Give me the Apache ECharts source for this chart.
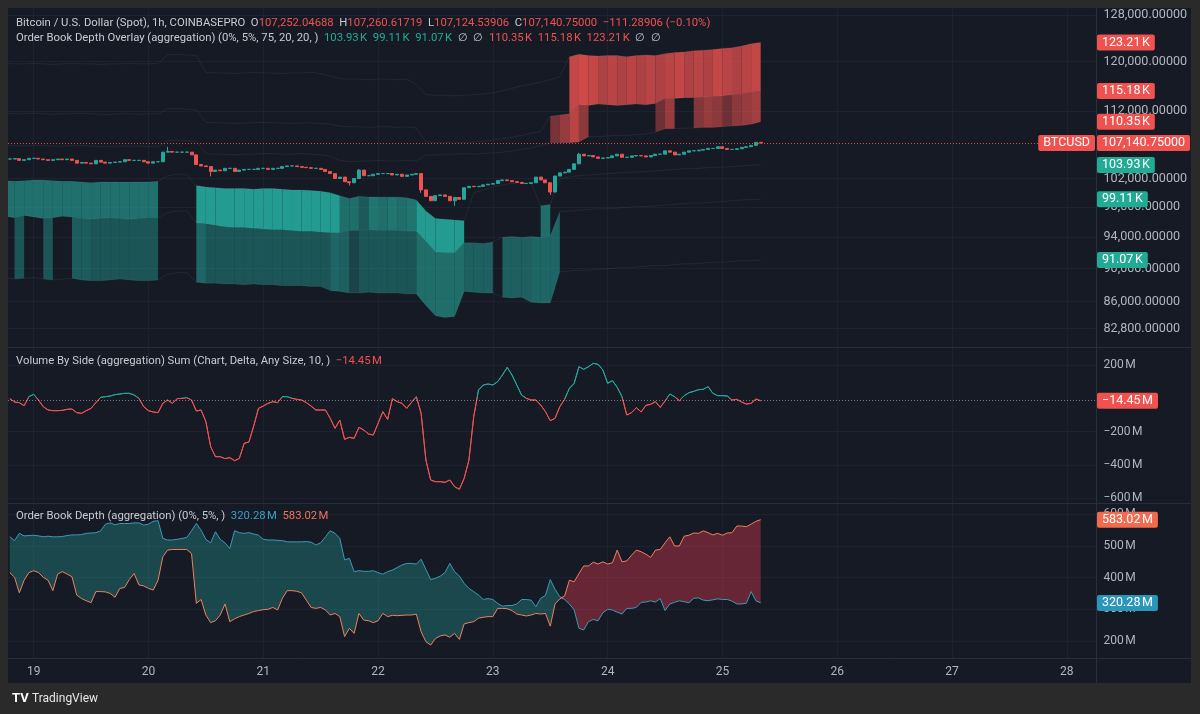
<!DOCTYPE html>
<html>
<head>
<meta charset="utf-8">
<style>
html, body { margin: 0; padding: 0; background: #2a2a2a; }
#chart { width: 1200px; height: 714px; }
</style>
<script src="https://cdn.jsdelivr.net/npm/echarts@6/dist/echarts.min.js"></script>
</head>
<body>
<div id="chart"></div>
<script>
// x axis: one category per hour, hour 0 = 19th 00:00
const firstCat = -6, lastCat = 222;
const dayLabels = ['19', '20', '21', '22', '23', '24', '25', '26', '27', '28'];

// hourly closes (K USD) from hour -5 to hour 152
const closes = [
  104.8, 104.85, 104.6, 104.7, 104.9, 104.9, 104.8, 104.7, 104.6, 104.7, 104.8, 104.7, 104.8, 104.6, 104.2, 104.3, 104.2, 104.1,
  104.6, 104.35, 104.2, 104.3, 104.35, 104.4, 104.7, 104.6, 104.6, 104.6, 104.4, 104.2, 104.4, 104.4,
  105.8, 105.9, 105.8, 105.8, 105.8, 105.8, 105.4, 104.0, 103.8, 103.7, 103.0, 103.2, 103.1, 103.45,
  103.45, 103.0, 103.2, 103.3, 103.3, 103.3, 103.45, 103.45, 103.3, 103.45, 103.45, 103.7, 103.8, 103.8,
  103.7, 103.6, 103.55, 103.45, 103.45, 103.3, 103.0, 102.7, 102.0, 102.2, 101.55, 101.4, 102.0, 103.2,
  102.4, 102.4, 102.6, 102.7, 102.7, 102.7, 102.5, 102.6, 102.3, 102.5, 102.6, 102.7, 100.4, 99.5,
  98.9, 99.6, 99.7, 99.5, 98.9, 99.35, 99.1, 100.7, 100.9, 100.85, 100.9, 101.1, 101.2, 101.3,
  101.7, 101.8, 101.7, 101.55, 101.45, 101.3, 101.3, 101.4, 102.2, 101.8, 101.4, 100.1, 102.35, 102.8,
  102.9, 103.3, 104.1, 105.5, 105.25, 105.3, 105.1, 104.9, 104.95, 105.0, 105.25, 105.5, 105.05, 105.05,
  105.25, 105.3, 105.25, 105.1, 105.3, 105.5, 105.5, 106.0, 105.8, 105.4, 105.5, 105.8, 106.0, 106.0,
  106.1, 106.2, 106.35, 106.35, 106.6, 106.35, 106.2, 106.2, 106.3, 106.5, 106.6, 106.8, 107.25, 107.14075
];
const wickHigh = { 28: 106.6, 68: 103.35, 114: 105.7, 152: 107.26062 };
const wickLow = { 37: 102.3, 66: 101.0, 81: 100.0, 88: 98.2, 108: 99.7, 152: 107.12454 };

// volume delta (M) hour -5..152
const volDelta = [
  -2, -22, -26, -44, 10, 24, -10, -50, -70, -74, -74, -72, -66, -64, -86, -90, -74, -60,
  -26, 6, 10, 14, 22, 26, 30, 30, 20, 0, -50, -74, -82, -86,
  -30, -10, -30, -2, 0, 4, -10, -76, -70, -140, -290, -350, -350, -362,
  -356, -374, -360, -270, -262, -166, -60, -46, -30, -20, -26, 10, 10, 0,
  -6, -10, -26, -46, -70, -70, -70, -120, -180, -130, -246, -234, -240, -174,
  -190, -214, -220, -150, -80, -126, -2, -20, -30, -60, -24, 10, -90, -370,
  -490, -500, -500, -504, -490, -530, -546, -480, -370, -110, 50, 80, 86, 80,
  100, 140, 186, 140, 80, 20, 0, -10, -10, -40, -80, -134, -120, -50,
  -6, 60, 90, 190, 174, 190, 210, 204, 170, 90, 106, 66, 10, -100,
  -86, -56, -82, -42, -36, -20, -54, -16, 26, 10, -14, 16, 34, 42,
  52, 54, 70, 30, 16, 16, 14, -10, -6, -22, -34, -30, -4, -14.45
];

// order book depth (M) hour -5..152
const bidDepth = [
  529, 517, 540, 532, 533, 534, 532, 529, 531, 529, 529, 530, 533, 535, 535, 536, 540, 541,
  542, 548, 569, 573, 567, 571, 571, 571, 573, 573, 566, 569, 578, 580,
  524, 519, 519, 521, 524, 527, 548, 571, 550, 521, 510, 545, 521, 510,
  492, 548, 542, 540, 542, 538, 534, 521, 519, 519, 518, 517, 513, 513,
  513, 513, 514, 512, 503, 510, 529, 548, 540, 524, 456, 461, 419, 422,
  420, 420, 422, 416, 411, 419, 424, 432, 440, 445, 445, 443, 458, 426,
  394, 398, 405, 416, 445, 419, 405, 382, 366, 356, 345, 331, 334, 331,
  319, 310, 312, 312, 317, 331, 331, 329, 308, 335, 344, 394, 363, 340,
  331, 317, 298, 240, 235, 261, 268, 264, 289, 300, 298, 291, 285, 303,
  303, 306, 322, 323, 327, 323, 334, 296, 317, 322, 327, 324, 321, 335,
  336, 329, 327, 330, 333, 331, 331, 326, 317, 317, 319, 356, 327, 320.28
];
const askDepth = [
  416, 401, 352, 392, 416, 422, 416, 401, 392, 359, 411, 419, 411, 403, 345, 334, 327, 321,
  356, 356, 355, 350, 338, 366, 369, 394, 413, 377, 374, 366, 361, 392,
  466, 487, 489, 489, 489, 489, 476, 319, 331, 282, 258, 264, 282, 317,
  261, 270, 277, 282, 287, 293, 296, 299, 300, 306, 298, 335, 359, 359,
  357, 352, 329, 306, 303, 306, 298, 282, 287, 277, 214, 240, 224, 287,
  266, 264, 258, 264, 287, 277, 281, 280, 281, 282, 282, 285, 229, 198,
  187, 208, 216, 219, 212, 224, 205, 254, 258, 261, 272, 275, 277, 277,
  303, 303, 302, 296, 285, 282, 279, 282, 287, 285, 287, 247, 317, 333,
  342, 392, 387, 413, 437, 437, 449, 443, 450, 443, 447, 487, 450, 453,
  471, 487, 482, 474, 464, 487, 489, 510, 529, 500, 500, 531, 534, 541,
  540, 548, 542, 535, 540, 534, 541, 542, 563, 563, 561, 569, 578, 583.02
];

// order book overlay levels (K USD), sampled every 2 hours from hour -6 to 152
const bidL1 = [
  101.7, 101.6, 101.7, 101.8, 101.8, 101.7, 101.6, 101.6, 101.5, 101.4, 101.5, 101.5, 101.5, 101.5, 101.5, 101.5, 101.6,
  102.4, 102.6, 102.6,
  101.0, 100.8, 100.7, 100.6, 100.6, 100.6, 100.5, 100.6, 100.6, 100.5, 100.4, 100.4, 100.3, 100.2, 100.0, 99.6, 99.2, 99.5, 99.4, 99.4, 99.4, 99.4, 99.3,
  99.0, 97.5, 96.5, 96.4, 96.3, 96.2,
  100.0, 100.4, 100.8, 101.1, 101.3, 101.4, 101.4, 98.2, 98.4,
  102.0, 102.2, 102.4, 102.5, 102.6, 102.7, 102.8, 102.9, 102.9, 103.0, 103.1, 103.2, 103.3, 103.4, 103.4, 103.5, 103.6, 103.6, 103.7, 103.8, 103.9, 103.93
];
const bidL2 = [
  96.8, 96.6, 96.9, 96.7, 96.5, 96.6, 96.8, 96.7, 96.5, 96.4, 96.5, 96.6, 96.5, 96.4, 96.5, 96.6, 96.6,
  97.3, 97.5, 97.5,
  95.9, 95.8, 95.6, 95.4, 95.3, 95.3, 95.2, 95.1, 95.0, 95.0, 94.9, 94.8, 94.8, 94.7, 94.6, 94.6,
  94.9, 94.9, 95.0, 94.9, 94.9, 94.9, 94.8,
  94.8, 93.5, 92.1, 92.0, 92.0, 93.3,
  93.3, 93.2, 93.4, 94.0, 94.1, 94.0, 94.1, 94.0, 94.2,
  97.4, 97.5, 97.6, 97.7, 97.8, 97.8, 97.9, 98.0, 98.1, 98.1, 98.2, 98.3, 98.4, 98.5, 98.6, 98.6, 98.7, 98.8, 98.9, 99.0, 99.05, 99.11
];
const bidL3 = [
  88.9, 88.7, 88.8, 88.9, 88.7, 88.6, 88.7, 88.8, 88.6, 88.5, 88.5, 88.6, 88.7, 88.6, 88.5, 88.5, 88.6,
  89.3, 89.5, 89.5,
  88.3, 88.2, 88.2, 88.1, 88.1, 88.0, 88.1, 88.0, 88.0, 87.9, 87.9, 87.9, 87.8, 87.8, 87.3, 87.2,
  87.0, 87.0, 87.1, 87.0, 87.0, 87.0, 86.9,
  86.9, 85.5, 84.3, 84.1, 84.2, 87.2,
  87.1, 87.0, 87.0, 86.5, 86.4, 86.5, 85.9, 85.8, 85.8,
  89.6, 89.7, 89.8, 89.8, 89.9, 90.0, 90.1, 90.1, 90.2, 90.3, 90.4, 90.4, 90.5, 90.6, 90.6, 90.7, 90.8, 90.8, 90.9, 91.0, 91.0, 91.07
];
const askL1 = [
  106.8, 106.8, 106.7, 106.8, 106.8, 106.7, 106.7, 106.8, 106.8, 106.7, 106.6, 106.6, 106.7, 106.7, 106.7, 106.6, 106.6,
  107.5, 107.6, 107.5, 107.4,
  105.6, 105.5, 105.5, 105.4, 105.5, 105.5, 105.6, 105.6, 105.5, 105.5, 105.6, 105.5, 105.4, 105.2,
  104.6, 104.4, 104.5, 104.5, 104.6, 104.5, 104.5, 104.6, 104.5,
  105.4, 105.4, 105.5, 105.5, 105.6, 105.5, 105.6, 105.7, 105.8, 106.0, 106.2, 106.4, 106.8,
  107.2, 107.2, 107.2,
  107.3, 108.1, 108.1, 108.2, 108.3, 108.3, 108.4, 108.5, 108.8,
  109.3, 109.3, 109.4, 109.4, 109.5, 109.5, 109.6, 109.7, 109.8, 110.0, 110.35
];
const askL2 = [
  111.7, 111.6, 111.6, 111.7, 111.6, 111.5, 111.6, 111.6, 111.7, 111.6, 111.5, 111.5, 111.6, 111.6, 111.5, 111.6, 111.6,
  112.4, 112.4, 112.3, 112.2,
  110.3, 110.2, 110.2, 110.1, 110.2, 110.2, 110.3, 110.2, 110.2, 110.1, 110.2, 110.2, 110.1, 110.0,
  109.7, 109.6, 109.6, 109.5, 109.6, 109.6, 109.5, 109.6, 109.4,
  107.3, 107.2, 107.2, 107.3, 107.2, 107.3, 107.4, 107.6, 107.8, 108.0, 108.3, 108.6, 108.9,
  111.2, 111.4, 111.6,
  113.0, 112.9, 113.1, 113.0, 112.9, 113.0, 113.1, 113.0, 113.2,
  114.0, 114.0, 114.1, 114.1, 114.2, 114.3, 114.4, 114.6, 114.7, 115.0, 115.18
];
const askL3 = [
  119.7, 119.6, 119.6, 119.7, 119.6, 119.5, 119.6, 119.7, 119.6, 119.6, 119.5, 119.6, 119.6, 119.7, 119.6, 119.6, 119.7,
  121.1, 121.2, 121.1, 121.0,
  118.2, 118.1, 118.1, 118.0, 118.1, 118.2, 118.1, 118.1, 118.0, 118.1, 118.1, 118.2, 118.0, 117.6,
  117.2, 117.1, 117.1, 117.0, 117.1, 117.1, 117.0, 117.1, 116.2,
  114.6, 114.5, 114.5, 114.4, 114.5, 114.6, 114.7, 114.9, 115.2, 115.6, 116.0, 116.3, 116.6,
  117.0, 117.5, 120.8,
  121.2, 121.0, 120.9, 121.0, 121.0, 120.8, 121.0, 121.1, 121.0,
  121.3, 121.5, 121.6, 121.8, 121.9, 122.0, 122.2, 122.3, 122.6, 123.0, 123.21
];

// which 2h segments of each band are filled: [fromSeg, toSeg, opacity]
const bidUpperRuns = [[0, 15, 0.62], [20, 34, 0.92], [35, 36, 0.6], [37, 37, 0.45], [38, 38, 0.65], [39, 39, 0.6], [40, 40, 0.65], [41, 41, 0.6], [42, 42, 0.65], [43, 47, 0.92], [56, 56, 0.6]];
const bidLowerRuns = [[1, 1, 0.42], [4, 4, 0.42], [7, 8, 0.48], [9, 15, 0.42], [20, 20, 0.55], [21, 33, 0.42], [34, 34, 0.55], [35, 35, 0.5], [36, 36, 0.3], [37, 42, 0.42], [43, 47, 0.6], [48, 50, 0.5], [52, 54, 0.5], [55, 57, 0.55]];
const askLowerRuns = [[57, 57, 0.45], [58, 58, 0.6], [59, 59, 0.75], [60, 60, 0.55], [68, 68, 0.4], [69, 69, 0.6], [72, 72, 0.5], [73, 73, 0.6], [74, 74, 0.55], [75, 75, 0.4], [76, 76, 0.55], [77, 77, 0.6], [78, 78, 0.65]];
const askUpperRuns = [[59, 59, 0.8], [60, 60, 0.85], [61, 61, 0.8], [62, 62, 0.7], [63, 63, 0.75], [64, 64, 0.7], [65, 65, 0.75], [66, 66, 0.7], [67, 67, 0.75], [68, 68, 0.7], [69, 69, 0.75], [70, 70, 0.8], [71, 71, 0.7], [72, 72, 0.75], [73, 73, 0.7], [74, 74, 0.8], [75, 75, 0.75], [76, 76, 0.7], [77, 77, 0.75], [78, 78, 0.8]];

// axis tick values
const priceTicks = [128000, 120000, 112000, 102000, 98000, 94000, 90000, 86000, 82800];
const volTicks = [200, -200, -400, -600];
const depthTicks = [600, 500, 400, 300, 200];

const FONT = 'Roboto, "Noto Sans", sans-serif';
const PANEL = '#161a25', FRAME = '#2a2a2a', GRID_CLR = '#1e2230', SEP = '#2a2e39';
const AXIS_TXT = '#b2b5be', TXT = '#c9cbd1';
const UP = '#26a69a', DOWN = '#ef5350';
const BID_CLR = '#3a9bb8', ASK_CLR = '#f0805f';
const LEGEND_SIZE = 11.3;

const cats = [];
for (let h = firstCat; h <= lastCat; h++) cats.push(String(h));
const ci = h => h - firstCat;
const isDay = (i, v) => +v >= 0 && +v % 24 === 0;
const NS = '\u202f';

// candles
const candleData = closes.map((c, i) => {
  const h = i - 5;
  const o = i === 0 ? c : closes[i - 1];
  const hi = wickHigh[h] != null ? wickHigh[h] : Math.max(o, c);
  const lo = wickLow[h] != null ? wickLow[h] : Math.min(o, c);
  return [ci(h), o * 1000, c * 1000, lo * 1000, hi * 1000];
});
candleData[candleData.length - 1][1] = 107252.04688;

// overlay bands
const bandData = [];
function addBand(lo, hi, runs, color) {
  runs.forEach(([a, b, op]) => {
    for (let s = a; s <= b; s++) {
      bandData.push([2 * s, lo[s] * 1000, hi[s] * 1000, 2 * s + 2, lo[s + 1] * 1000, hi[s + 1] * 1000, op, color]);
    }
  });
}
addBand(bidL2, bidL1, bidUpperRuns, 0);
addBand(bidL3, bidL2, bidLowerRuns, 1);
addBand(askL1, askL2, askLowerRuns, 2);
addBand(askL2, askL3, askUpperRuns, 3);
const bandColors = [UP, UP, DOWN, DOWN];

const levelSeries = [bidL1, bidL2, bidL3, askL1, askL2, askL3].map(arr => ({
  type: 'line', xAxisIndex: 0, yAxisIndex: 0, symbol: 'none', z: 1,
  lineStyle: { color: 'rgba(255,255,255,0.06)', width: 1 },
  data: arr.map((v, k) => [2 * k, v * 1000])
}));

const volData = volDelta.map((v, i) => [ci(i - 5), v]);
const baseData = bidDepth.map((b, i) => [ci(i - 5), Math.min(b, askDepth[i])]);
const bidOver = bidDepth.map((b, i) => [ci(i - 5), Math.max(b - askDepth[i], 0)]);
const askOver = bidDepth.map((b, i) => [ci(i - 5), Math.max(askDepth[i] - b, 0)]);

const priceFmt = v => v.toLocaleString('en-US', { minimumFractionDigits: 5, maximumFractionDigits: 5 });
const mFmt = v => (v < 0 ? '\u2212' : '') + Math.abs(v) + NS + 'M';

const chart = echarts.init(document.getElementById('chart'));

const xAxes = [0, 1, 2].map(i => ({
  type: 'category', gridIndex: i, data: cats, boundaryGap: false,
  axisLine: { show: false }, axisTick: { show: false },
  axisLabel: { show: i === 2, interval: isDay, formatter: v => dayLabels[+v / 24], color: AXIS_TXT, fontSize: 12, fontFamily: FONT, margin: 8 },
  splitLine: { show: true, interval: isDay, lineStyle: { color: GRID_CLR, width: 1 } }
}));

function yAxis(grid, extra, ticks, fmt, size) {
  return Object.assign({
    gridIndex: grid, position: 'right', scale: true,
    axisLine: { show: false },
    axisTick: { show: false, customValues: ticks },
    axisLabel: { customValues: ticks, formatter: fmt, color: AXIS_TXT, fontSize: size, fontFamily: FONT, margin: 8 },
    splitLine: { show: true, lineStyle: { color: GRID_CLR, width: 1 } }
  }, extra);
}

const option = {
  backgroundColor: PANEL,
  animation: false,
  grid: [
    { left: 5, right: 104.5, top: 8, height: 339 },
    { left: 5, right: 104.5, top: 348, height: 155 },
    { left: 5, right: 104.5, top: 504, height: 154 }
  ],
  xAxis: xAxes,
  yAxis: [
    yAxis(0, { type: 'log', logBase: 10, min: 80720, max: 129250 }, priceTicks, priceFmt, 12.6),
    yAxis(1, { type: 'value', min: -628, max: 302 }, volTicks, mFmt, 12),
    yAxis(2, { type: 'value', min: 146.3, max: 632.6 }, depthTicks, mFmt, 12)
  ],
  visualMap: [{
    show: false, type: 'piecewise', seriesIndex: 8, dimension: 1,
    pieces: [{ gt: 0, lte: 1000, color: UP }, { gt: -1000, lte: 0, color: DOWN }],
    outOfRange: { color: DOWN }
  }],
  series: [
    {
      type: 'custom', xAxisIndex: 0, yAxisIndex: 0, z: 1,
      encode: { x: [0, 3], y: [1, 2, 4, 5] },
      renderItem: (params, api) => {
        const a = api.coord([api.value(0), api.value(1)]);
        const b = api.coord([api.value(0), api.value(2)]);
        const c = api.coord([api.value(3), api.value(5)]);
        const d = api.coord([api.value(3), api.value(4)]);
        return {
          type: 'polygon', shape: { points: [a, b, c, d] },
          style: { fill: bandColors[api.value(7)], opacity: api.value(6) }
        };
      },
      data: bandData
    },
    ...levelSeries,
    {
      type: 'candlestick', xAxisIndex: 0, yAxisIndex: 0, z: 3, barWidth: 3.5,
      encode: { x: 0, y: [1, 2, 3, 4] },
      itemStyle: { color: UP, color0: DOWN, borderColor: UP, borderColor0: DOWN, borderWidth: 1 },
      data: candleData,
      markLine: {
        silent: true, symbol: 'none', label: { show: false },
        lineStyle: { color: DOWN, type: [1, 2], width: 1, opacity: 0.9 },
        data: [{ yAxis: 107140.75 }]
      }
    },
    {
      type: 'line', xAxisIndex: 1, yAxisIndex: 1, symbol: 'none', z: 3,
      lineStyle: { width: 1 },
      data: volData,
      markLine: {
        silent: true, symbol: 'none', label: { show: false },
        lineStyle: { color: 'rgba(200,203,210,0.55)', type: [1, 2], width: 1 },
        data: [{ yAxis: -14.45 }]
      }
    },
    {
      type: 'line', xAxisIndex: 2, yAxisIndex: 2, stack: 'depth', symbol: 'none',
      lineStyle: { width: 0 }, data: baseData
    },
    {
      type: 'line', xAxisIndex: 2, yAxisIndex: 2, stack: 'depth', symbol: 'none',
      lineStyle: { width: 0 }, areaStyle: { color: '#22a094', opacity: 0.35 }, data: bidOver
    },
    {
      type: 'line', xAxisIndex: 2, yAxisIndex: 2, stack: 'depth', symbol: 'none',
      lineStyle: { width: 0 }, areaStyle: { color: '#e03a50', opacity: 0.4 }, data: askOver
    },
    {
      type: 'line', xAxisIndex: 2, yAxisIndex: 2, symbol: 'none', z: 3,
      lineStyle: { color: BID_CLR, width: 1 }, data: bidDepth.map((v, i) => [ci(i - 5), v])
    },
    {
      type: 'line', xAxisIndex: 2, yAxisIndex: 2, symbol: 'none', z: 3,
      lineStyle: { color: ASK_CLR, width: 1 }, data: askDepth.map((v, i) => [ci(i - 5), v])
    }
  ]
};
chart.setOption(option);

// overlays: frame, separators, legends, price tags
const yPix = (axis, v) => chart.convertToPixel({ yAxisIndex: axis }, v);
function tag(x, y, text, bg, align) {
  return {
    type: 'text', x: x, y: y, z: 100,
    style: {
      text: text, fill: '#ffffff', fontSize: 12.5, fontFamily: FONT, align: align || 'left', verticalAlign: 'middle',
      backgroundColor: bg, padding: [2, 5, 1, 5], borderRadius: 2
    }
  };
}
function rich(color) { return { fill: color, fontSize: LEGEND_SIZE, fontFamily: FONT }; }
function legend(x, y, text) {
  return {
    type: 'text', x: x, y: y, z: 100,
    style: {
      text: text, verticalAlign: 'middle', fontSize: LEGEND_SIZE, fontFamily: FONT, fill: TXT,
      rich: { t: rich(TXT), r: rich('#f0524f'), g: rich('#22ab94'), b: rich('#3aa0c4'), o: rich('#f27456') }
    }
  };
}
const last = a => a[a.length - 1];
const kFmt = v => v.toFixed(2) + NS + 'K';
const tagX = 1097;
const RED_TAG = '#f0524f', TEAL_TAG = '#22ab94';

const graphics = [
  { type: 'rect', z: 90, shape: { x: 0, y: 0, width: 1200, height: 8 }, style: { fill: FRAME } },
  { type: 'rect', z: 90, shape: { x: 0, y: 0, width: 8, height: 714 }, style: { fill: FRAME } },
  { type: 'rect', z: 90, shape: { x: 1191, y: 0, width: 9, height: 714 }, style: { fill: FRAME } },
  { type: 'rect', z: 90, shape: { x: 0, y: 683, width: 1200, height: 31 }, style: { fill: FRAME } },
  { type: 'line', z: 91, shape: { x1: 8, y1: 347.5, x2: 1191, y2: 347.5 }, style: { stroke: SEP, lineWidth: 1 } },
  { type: 'line', z: 91, shape: { x1: 8, y1: 503.5, x2: 1191, y2: 503.5 }, style: { stroke: SEP, lineWidth: 1 } },
  { type: 'line', z: 91, shape: { x1: 8, y1: 658.5, x2: 1191, y2: 658.5 }, style: { stroke: SEP, lineWidth: 1 } },
  { type: 'line', z: 91, shape: { x1: 1096.5, y1: 8, x2: 1096.5, y2: 683 }, style: { stroke: SEP, lineWidth: 1 } },
  legend(16, 23, '{t|Bitcoin / U.S. Dollar (Spot), 1h, COINBASEPRO  O}{r|107,252.04688}{t|  H}{r|107,260.61719}{t|  L}{r|107,124.53906}{t|  C}{r|107,140.75000  \u2212111.28906 (\u22120.10%)}'),
  legend(16, 38, '{t|Order Book Depth Overlay (aggregation) (0%, 5%, 75, 20, 20, )  }{g|' + kFmt(last(bidL1)) + '  ' + kFmt(last(bidL2)) + '  ' + kFmt(last(bidL3)) + '}{t|  \u2205  \u2205  }{r|' + kFmt(last(askL1)) + '  ' + kFmt(last(askL2)) + '  ' + kFmt(last(askL3)) + '}{t|  \u2205  \u2205}'),
  legend(16, 361, '{t|Volume By Side (aggregation) Sum (Chart, Delta, Any Size, 10, )  }{r|\u221214.45' + NS + 'M}'),
  legend(16, 516, '{t|Order Book Depth (aggregation) (0%, 5%, )  }{b|' + last(bidDepth).toFixed(2) + NS + 'M}{t|  }{o|' + last(askDepth).toFixed(2) + NS + 'M}'),
  {
    type: 'text', x: 12, y: 699, z: 100,
    style: { text: '{l|TV} {n|TradingView}', verticalAlign: 'middle', rich: { l: { fill: '#ffffff', fontSize: 13, fontWeight: 'bold', fontFamily: FONT }, n: { fill: '#e8e8e8', fontSize: 12, fontFamily: FONT } } }
  }
];

[[last(askL3), RED_TAG], [last(askL2), RED_TAG], [last(askL1), RED_TAG], [last(bidL1), TEAL_TAG], [last(bidL2), TEAL_TAG], [last(bidL3), TEAL_TAG]]
  .forEach(([v, c]) => graphics.push(tag(tagX, yPix(0, v * 1000), kFmt(v), c)));
const pY = yPix(0, 107140.75);
graphics.push(tag(1095, pY, 'BTCUSD', RED_TAG, 'right'));
graphics.push(tag(tagX, pY, '107,140.75000', RED_TAG));
graphics.push(tag(tagX, yPix(1, last(volDelta)), mFmt(last(volDelta)), RED_TAG));
graphics.push(tag(tagX, yPix(2, last(askDepth)), last(askDepth).toFixed(2) + NS + 'M', '#f26b4e'));
graphics.push(tag(tagX, yPix(2, last(bidDepth)), last(bidDepth).toFixed(2) + NS + 'M', '#2a96b9'));

chart.setOption({ graphic: graphics });
</script>
</body>
</html>
